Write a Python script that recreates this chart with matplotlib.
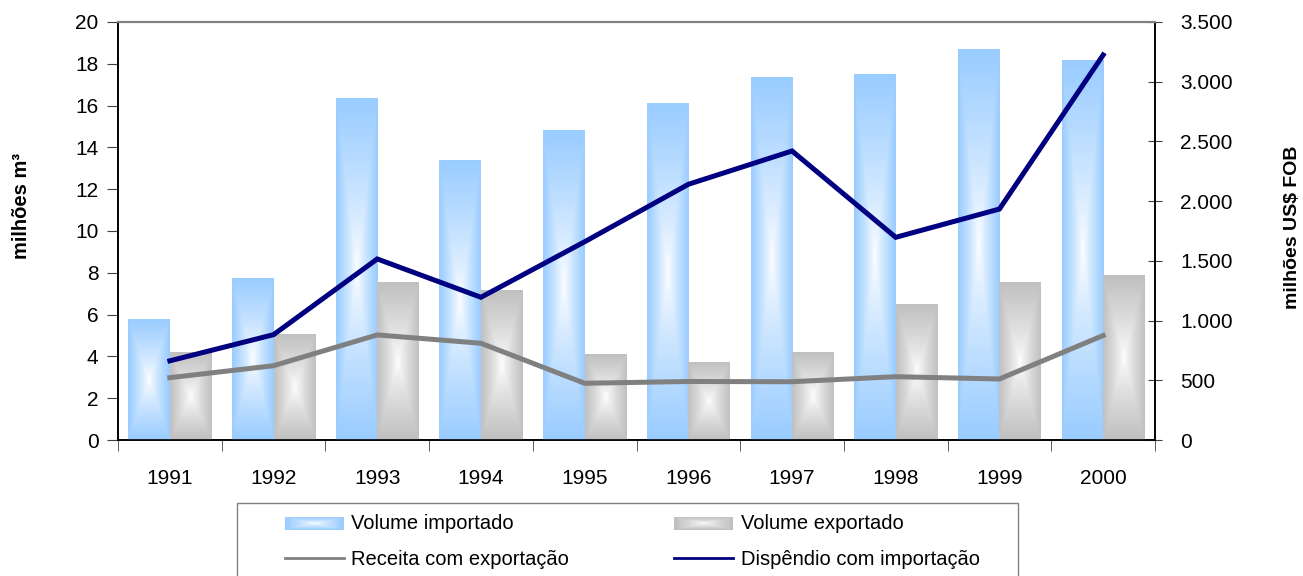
import numpy as np
import matplotlib
matplotlib.use("Agg")
import matplotlib.pyplot as plt
from matplotlib.colors import to_rgb
from matplotlib.patches import Rectangle
from matplotlib.legend_handler import HandlerBase
from matplotlib.lines import Line2D

plt.rcParams['font.family'] = ['Liberation Sans', 'DejaVu Sans']

years = ['1991', '1992', '1993', '1994', '1995', '1996', '1997', '1998', '1999', '2000']
vol_importado = [5.75, 7.75, 16.35, 13.35, 14.8, 16.1, 17.35, 17.5, 18.7, 18.15]
vol_exportado = [4.2, 5.05, 7.55, 7.15, 4.1, 3.7, 4.2, 6.5, 7.55, 7.85]
receita_exp = [522, 622, 880, 810, 475, 490, 488, 530, 511, 875]
dispendio_imp = [663, 882, 1516, 1195, 1660, 2141, 2420, 1697, 1934, 3224]

BLUE = '#99CCFF'
GRAY = '#C0C0C0'

fig = plt.figure(figsize=(13.03, 5.76), dpi=100)
ax = fig.add_axes([118/1303, 1-440/576, (1155-118)/1303, (440-22)/576])
ax2 = ax.twinx()

x = np.arange(len(years))
w = 0.4


def grad_image(color, n=200):
    c = np.array(to_rgb(color))
    u = np.linspace(-1, 1, n)
    U, V = np.meshgrid(u, u)
    t = np.maximum(np.abs(U), np.abs(V))
    t = t ** 0.8
    img = (1 - t)[..., None] * np.ones(3) + t[..., None] * c
    return img


def gradient_bars(axis, xs, heights, color, offset):
    bars = axis.bar(xs + offset, heights, width=w, color=color, edgecolor='none', zorder=2)
    img = grad_image(color)
    for b in bars:
        x0, y0 = b.get_x(), b.get_y()
        axis.imshow(img, extent=[x0, x0 + b.get_width(), y0, y0 + b.get_height()],
                    aspect='auto', zorder=3, interpolation='bilinear')
    return bars


gradient_bars(ax, x, vol_importado, BLUE, -w/2)
gradient_bars(ax, x, vol_exportado, GRAY, w/2)

ax.set_xlim(-0.5, len(years) - 0.5)
ax.set_ylim(0, 20)
ax.set_yticks(np.arange(0, 21, 2))
ax.set_xticks(x)
ax.set_xticklabels(years)
ax.set_xticks(np.arange(-0.5, len(years), 1), minor=True)
ax.tick_params(axis='x', which='major', length=0, pad=21, labelsize=15)
ax.tick_params(axis='x', which='minor', length=8, direction='out', color='#404040')
ax.tick_params(axis='y', length=8, direction='out', labelsize=15, pad=6, color='#404040')
ax.set_ylabel('milhões m³', fontsize=14.5, fontweight='bold', labelpad=32, y=0.56)

ax2.plot(x, receita_exp, color='#808080', lw=3.6, solid_joinstyle='miter', zorder=5)
ax2.plot(x, dispendio_imp, color='#000080', lw=3.6, solid_joinstyle='miter', zorder=5)
ax2.set_ylim(0, 3500)
ax2.set_yticks(np.arange(0, 3501, 500))
ax2.set_yticklabels([f'{v:,}'.replace(',', '.') for v in range(0, 3501, 500)])
ax2.tick_params(axis='y', length=10, direction='inout', labelsize=15, pad=13, color='#404040')
ax2.set_ylabel('milhões US$ FOB', fontsize=14, fontweight='bold', labelpad=37, y=0.51)

for a in (ax, ax2):
    a.spines['top'].set_color('#808080')
    a.spines['top'].set_linewidth(1.5)
    for s in ('left', 'right', 'bottom'):
        a.spines[s].set_color('black')
        a.spines[s].set_linewidth(1.2)


class GradHandler(HandlerBase):
    def __init__(self, color):
        super().__init__()
        self.color = color

    def create_artists(self, legend, orig_handle, xdescent, ydescent, width, height, fontsize, trans):
        c = np.array(to_rgb(self.color))
        arts = []
        n = 12
        for i in range(n):
            f = i / n
            t = (1 - f) ** 0.8
            col = (1 - t) * np.ones(3) + t * c
            dx = width * f / 2
            dy = height * f / 2
            r = Rectangle((xdescent + dx, ydescent + dy), width - 2 * dx, height - 2 * dy,
                          facecolor=col, edgecolor='none', transform=trans)
            arts.append(r)
        return arts


h_imp = Rectangle((0, 0), 1, 1)
h_exp = Rectangle((0, 0), 1, 1)
h_rec = Line2D([], [], color='#808080', lw=2)
h_dis = Line2D([], [], color='#000080', lw=2)

# legend frame (clipped at the bottom edge of the figure, as in the original)
frame = Rectangle((237/1303, -0.1), (1018-237)/1303, 0.1 + 1-503/576, transform=fig.transFigure,
                  facecolor='white', edgecolor='#808080', linewidth=1.0, zorder=0)
fig.patches.append(frame)

leg = fig.legend([h_imp, h_rec, h_exp, h_dis],
                 ['Volume importado', 'Receita com exportação', 'Volume exportado', 'Dispêndio com importação'],
                 handler_map={h_imp: GradHandler(BLUE), h_exp: GradHandler(GRAY)},
                 loc='upper left', bbox_to_anchor=(285/1303, 1-514/576),
                 ncol=2, fontsize=14.5, frameon=False,
                 handlelength=2.95, handleheight=0.6, handletextpad=0.35, labelspacing=0.85,
                 columnspacing=5.2, borderpad=0, borderaxespad=0)

fig.savefig('out.png', dpi=100)
